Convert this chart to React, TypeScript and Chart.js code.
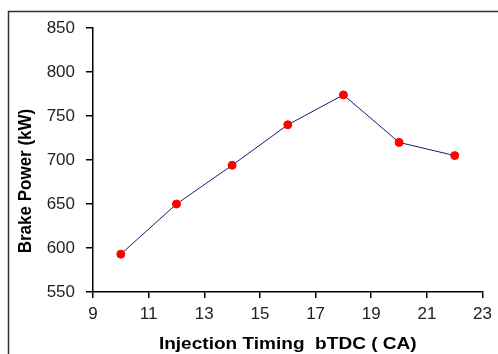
import React, { useEffect, useRef } from "react";
import { Chart, registerables } from "chart.js";

Chart.register(...registerables);

const injectionTiming = [10, 12, 14, 16, 18, 20, 22];
const brakePower = [593, 650, 694, 740, 774, 720, 705];
const xTitle = "Injection Timing  bTDC ( CA)";
const yTitle = "Brake Power (kW)";

const framePlugin = {
  id: "frame",
  afterDraw(chart: any) {
    const ctx = chart.ctx;
    const area = chart.chartArea;
    ctx.save();
    ctx.strokeStyle = "#333";
    ctx.lineWidth = 1.5;
    ctx.beginPath();
    ctx.moveTo(8.5, chart.height);
    ctx.lineTo(8.5, 11.5);
    ctx.lineTo(chart.width, 11.5);
    ctx.stroke();
    ctx.fillStyle = "#000";
    ctx.font = "bold 17px 'Liberation Sans', Arial, sans-serif";
    ctx.textAlign = "center";
    ctx.textBaseline = "middle";
    ctx.save();
    ctx.translate((area.left + area.right) / 2, 344);
    ctx.scale(1.12, 1);
    ctx.fillText(xTitle, 0, 0);
    ctx.restore();
    ctx.translate(26, 181);
    ctx.rotate(-Math.PI / 2);
    ctx.scale(1, 1.1);
    ctx.fillText(yTitle, 0, 0);
    ctx.restore();
  },
};

export default function App() {
  const ref = useRef<HTMLCanvasElement>(null);
  useEffect(() => {
    if (!ref.current) return;
    const chart = new Chart(ref.current, {
      type: "line",
      data: {
        datasets: [
          {
            data: injectionTiming.map((x, i) => ({ x, y: brakePower[i] })),
            borderColor: "#1a1a6e",
            borderWidth: 1,
            pointBackgroundColor: "#ff0000",
            pointBorderColor: "#ff0000",
            pointRadius: 4,
            pointStyle: "circle",
            tension: 0,
          },
        ],
      },
      options: {
        animation: false,
        responsive: false,
        layout: { padding: { left: 0, top: 28, right: 10, bottom: 0 } },
        plugins: { legend: { display: false }, tooltip: { enabled: false } },
        scales: {
          x: {
            type: "linear",
            min: 9,
            max: 23,
            ticks: {
              stepSize: 2,
              color: "#222",
              font: { size: 17, family: "'Liberation Sans', Arial, sans-serif" },
              padding: 6,
              maxRotation: 0,
            },
            grid: { drawOnChartArea: false, drawTicks: true, tickLength: 6, color: "#000", lineWidth: 1.5 },
            border: { display: true, color: "#000", width: 1.5 },
            afterFit(scale: any) {
              scale.height = 62;
            },
          },
          y: {
            min: 550,
            max: 850,
            ticks: {
              stepSize: 50,
              color: "#222",
              font: { size: 17, family: "'Liberation Sans', Arial, sans-serif" },
              padding: 11,
            },
            grid: { drawOnChartArea: false, drawTicks: true, tickLength: 7, color: "#000", lineWidth: 1.5 },
            border: { display: true, color: "#000", width: 1.5 },
            afterFit(scale: any) {
              scale.width = 93;
            },
          },
        },
      },
      plugins: [framePlugin],
    });
    return () => chart.destroy();
  }, []);
  return (
    <div style={{ position: "absolute", left: 0, top: 0, width: 498, height: 354, background: "#fff" }}>
      <canvas ref={ref} width={498} height={354} style={{ display: "block" }} />
    </div>
  );
}
